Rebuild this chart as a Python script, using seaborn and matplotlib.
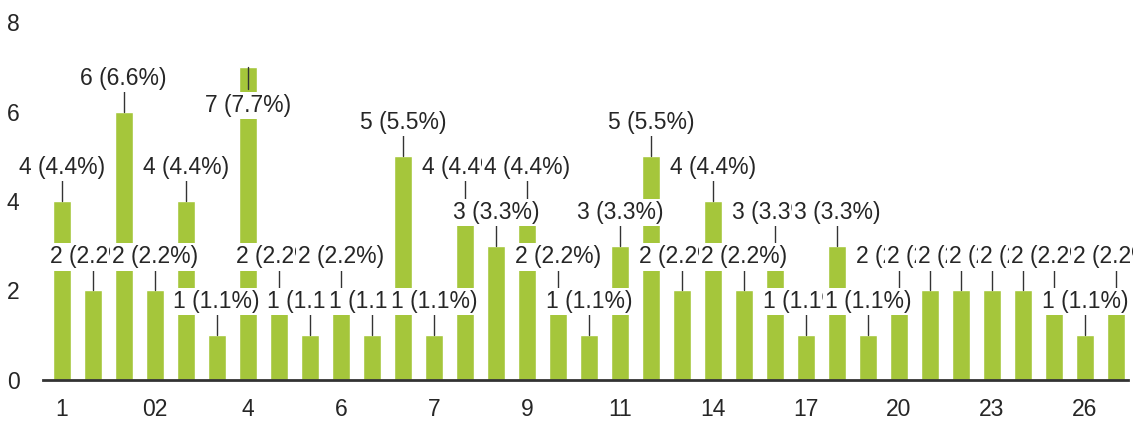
import matplotlib
matplotlib.use("Agg")
import matplotlib.pyplot as plt
import pandas as pd
import seaborn as sns

# ──────────────────────────────────────────────
# データ
# ──────────────────────────────────────────────
categories = ["1", "01", "2", "02", "3", "03", "4", "5", "05", "6", "06", "6.5",
              "7", "8", "08", "9", "10", "10.5", "11", "12", "13", "14", "15", "16",
              "17", "18", "19", "20", "21", "22", "23", "24", "25", "26", "27"]
counts = [4, 2, 6, 2, 4, 1, 7, 2, 1, 2, 1, 5,
          1, 4, 3, 4, 2, 1, 3, 5, 2, 4, 2, 3,
          1, 3, 1, 2, 2, 2, 2, 2, 2, 1, 2]
shown_ticks = ["1", "02", "4", "6", "7", "9", "11", "14", "17", "20", "23", "26"]
y_ticks = [0, 2, 4, 6, 8]

BAR_COLOR = "#a5c63b"
TEXT_COLOR = "#262626"
FS = 16.5

sns.set_theme(style="white")
plt.rcParams["font.family"] = ["Liberation Sans", "DejaVu Sans"]

df = pd.DataFrame({"cat": categories, "n": counts})
total = df["n"].sum()

fig = plt.figure(figsize=(11.33, 4.25), dpi=100)
ax = fig.add_axes([0.038, 0.106, 0.958, 0.842])

sns.barplot(data=df, x="cat", y="n", color=BAR_COLOR, saturation=1, width=0.58, ax=ax)

# ラベル（引き出し線＋白背景）: 上に収まらない棒は棒の中に置く
for i, v in enumerate(df["n"]):
    label = f"{v} ({v / total * 100:.1f}%)"
    if v + 0.75 > 7.5:
        ty, ly = v - 0.87, v - 0.5
    else:
        ty, ly = v + 0.75, v + 0.5
    ax.plot([i, i], [v, ly], color="#333333", lw=1, zorder=3)
    ax.text(i, ty, label, ha="center", va="center", fontsize=FS, color=TEXT_COLOR,
            zorder=4, bbox=dict(facecolor="white", edgecolor="none", pad=1.5))

ax.set_xlim(-0.6, len(categories) - 0.6)
ax.set_ylim(0, 8)
ax.set_yticks(y_ticks)
ax.set_yticklabels([str(t) for t in y_ticks], fontsize=FS, color=TEXT_COLOR)
ax.set_xticks([categories.index(c) for c in shown_ticks])
ax.set_xticklabels(shown_ticks, fontsize=FS, color=TEXT_COLOR)
ax.tick_params(axis="y", length=0, pad=17)
ax.tick_params(axis="x", length=0, pad=13)
ax.set_xlabel("")
ax.set_ylabel("")

for s in ["top", "right", "left"]:
    ax.spines[s].set_visible(False)
ax.spines["bottom"].set_color("#333333")
ax.spines["bottom"].set_linewidth(2)

fig.savefig("out.png", dpi=100)
plt.close(fig)
